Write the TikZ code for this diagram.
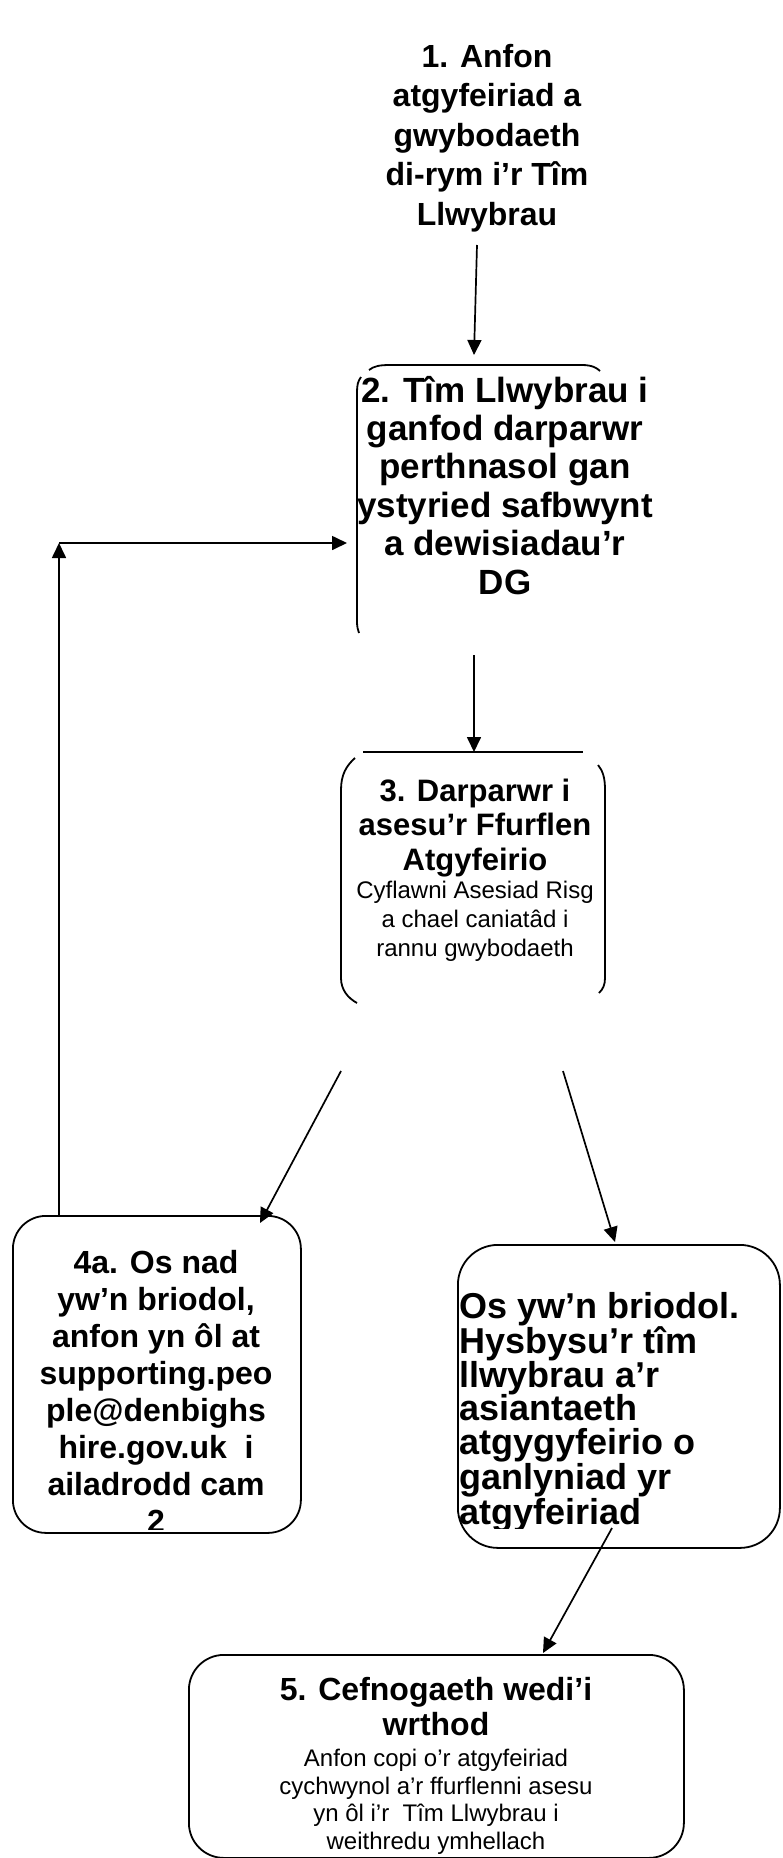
\documentclass[tikz,border=0pt]{standalone}
\usepackage{fontspec}
\setmainfont{Liberation Sans}
\usetikzlibrary{arrows.meta}
\begin{document}
\begin{tikzpicture}[x=1pt,y=-1pt,
  arr/.style={-{Triangle[length=15pt,width=14pt]}, line width=1.7pt},
  frag/.style={line width=1.8pt},
  boxnode/.style={draw, line width=1.8pt, inner sep=0pt, anchor=north west},
  tbig/.style={font=\fontsize{32}{39.4}\selectfont\bfseries, align=center, inner sep=0pt, anchor=base},
]
\useasboundingbox (0,0) rectangle (782,1858);

% ---------- box 1 (text only); anchor = baseline of last line
\node[tbig] (t1) at (487,225) {1. Anfon\\atgyfeiriad a\\gwybodaeth\\di-rym i’r Tîm\\Llwybrau};

% ---------- box 2 (fragments)
\draw[frag] (369,370) .. controls (374,366) and (380,365) .. (390,365) -- (582,365) .. controls (592,365) and (597,368) .. (600,371);
\draw[frag] (361,377) .. controls (358,381) and (357,385) .. (357,392) -- (357,622) .. controls (357,627) and (358,630) .. (359,633);
\node[tbig, font=\fontsize{35}{38.4}\selectfont\bfseries] (t2) at (505,594) {2. Tîm Llwybrau i\\ganfod darparwr\\perthnasol gan\\ystyried safbwynt\\a dewisiadau’r\\DG};

% ---------- box 3 (fragments)
\draw[frag] (363,752) -- (583,752);
\draw[frag] (355,758) .. controls (346,766) and (341,775) .. (341,790) -- (341,978) .. controls (341,990) and (348,998) .. (357,1003);
\draw[frag] (598,765) .. controls (603,771) and (605,778) .. (605,790) -- (605,978) .. controls (605,985) and (603,989) .. (599,993);
\node[tbig, font=\fontsize{31}{34.4}\selectfont\bfseries] (t3) at (475,870) {3. Darparwr i\\asesu’r Ffurflen\\Atgyfeirio};
\node[tbig, font=\fontsize{24}{29}\selectfont] (s3) at (475,956) {Cyflawni Asesiad Risg\\a chael caniatâd i\\rannu gwybodaeth};

% ---------- box 4a
\node[boxnode, rounded corners=33pt, minimum width=288pt, minimum height=317pt] (b4a) at (12,1215) {};
\begin{scope}
\clip (12,1215) rectangle (300,1529);
\node[tbig, font=\fontsize{32}{37}\selectfont\bfseries] (t4a) at (156,1532) {4a. Os nad\\yw’n briodol,\\anfon yn ôl at\\supporting.peo\\ple@denbighs\\hire.gov.uk\ \ i\\ailadrodd cam\\2};
\end{scope}

% ---------- box 4b
\node[boxnode, rounded corners=40pt, minimum width=322pt, minimum height=303pt] (b4b) at (457,1244) {};
\begin{scope}
\clip (457,1244) rectangle (780,1528);
\node[tbig, font=\fontsize{36}{33.7}\selectfont\bfseries, align=left, anchor=base west] (t4b) at (459,1524) {Os yw’n briodol.\\Hysbysu’r tîm\\llwybrau a’r\\asiantaeth\\atgygyfeirio o\\ganlyniad yr\\atgyfeiriad};
\end{scope}

% ---------- box 5
\node[boxnode, rounded corners=35pt, minimum width=495pt, minimum height=203pt] (b5) at (188,1654) {};
\node[tbig, font=\fontsize{32}{35}\selectfont\bfseries] (t5) at (436,1735) {5. Cefnogaeth wedi’i\\wrthod};
\node[tbig, font=\fontsize{24}{27.5}\selectfont] (s5) at (436,1849) {Anfon copi o’r atgyfeiriad\\cychwynol a’r ffurflenni asesu\\yn ôl i’r\ \ Tîm Llwybrau i\\weithredu ymhellach};

% ---------- connector end points
\coordinate (c1s) at (477,245);
\coordinate (c2n) at (474,355);
\coordinate (c2s) at (474,655);
\coordinate (c3n) at (474,752);
\coordinate (c3sw) at (341,1071);
\coordinate (c4an) at (260,1223);
\coordinate (c3se) at (563,1071);
\coordinate (c4bn) at (615,1242);
\coordinate (c4bs) at (612,1528);
\coordinate (c5n) at (543,1653);
\coordinate (c4at) at (59,1215);
\coordinate (cbend) at (59,543);
\coordinate (c2w) at (347,543);

\draw[arr] (c1s) -- (c2n);
\draw[arr] (c2s) -- (c3n);
\draw[arr] (c3sw) -- (c4an);
\draw[arr] (c3se) -- (c4bn);
\draw[arr] (c4bs) -- (c5n);
\draw[arr] (c4at) -- (cbend);
\draw[arr] (cbend) -- (c2w);
\end{tikzpicture}
\end{document}
